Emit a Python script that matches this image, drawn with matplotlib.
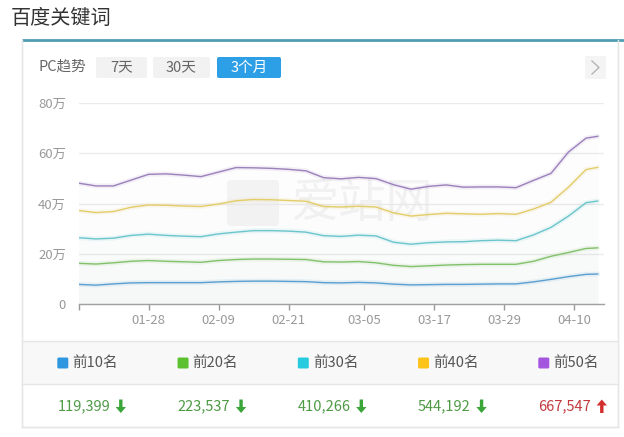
import matplotlib
matplotlib.use('Agg')
import matplotlib.pyplot as plt
from matplotlib.patches import FancyBboxPatch, Rectangle, Polygon
import pandas as pd

plt.rcParams['font.family'] = ['Noto Sans CJK SC', 'DejaVu Sans']

# ---- data (单位: 万) ----
dates = ['01-16', '01-19', '01-22', '01-25', '01-28', '01-31', '02-03', '02-06',
         '02-09', '02-12', '02-15', '02-18', '02-21', '02-24', '02-27', '03-01',
         '03-04', '03-07', '03-10', '03-13', '03-16', '03-19', '03-22', '03-25',
         '03-28', '03-31', '04-03', '04-06', '04-09', '04-12', '04-14']

top10 = [7.8, 7.5, 8.0, 8.4, 8.5, 8.5, 8.5, 8.5, 8.8, 9.0, 9.1, 9.1, 9.0, 8.9, 8.5, 8.4,
         8.6, 8.4, 7.9, 7.6, 7.7, 7.8, 7.8, 7.9, 8.0, 8.0, 8.8, 9.8, 10.9, 11.8, 11.94]
top20 = [16.2, 15.9, 16.4, 17.0, 17.3, 17.0, 16.8, 16.6, 17.3, 17.7, 17.9, 17.9, 17.8, 17.7,
         16.8, 16.7, 16.9, 16.4, 15.4, 14.9, 15.2, 15.5, 15.7, 15.8, 15.8, 15.8, 17.0, 19.0,
         20.5, 22.1, 22.35]
top30 = [26.4, 25.9, 26.2, 27.3, 27.8, 27.3, 27.0, 26.8, 27.9, 28.6, 29.2, 29.2, 29.0, 28.6,
         27.2, 26.9, 27.4, 27.1, 24.6, 23.8, 24.4, 24.7, 24.8, 25.2, 25.4, 25.2, 27.5, 30.5,
         35.0, 40.3, 41.0]
top40 = [37.2, 36.4, 36.8, 38.5, 39.4, 39.3, 39.0, 38.8, 39.8, 41.1, 41.6, 41.5, 41.2, 40.9,
         38.8, 38.6, 38.9, 38.6, 36.3, 35.0, 35.6, 36.1, 35.9, 35.7, 36.0, 35.7, 37.8, 40.5,
         46.5, 53.5, 54.4]
top50 = [48.1, 47.0, 47.0, 49.3, 51.6, 51.8, 51.3, 50.7, 52.5, 54.3, 54.2, 54.0, 53.6, 53.0,
         50.3, 49.8, 50.4, 49.9, 47.5, 45.7, 46.8, 47.4, 46.5, 46.6, 46.6, 46.3, 49.2, 52.0,
         60.5, 66.0, 66.75]

series_names = ['前10名', '前20名', '前30名', '前40名', '前50名']
latest = ['119,399', '223,537', '410,266', '544,192', '667,547']
trend_up = [False, False, False, False, True]

tick_dates = ['01-16', '01-28', '02-09', '02-21', '03-05', '03-17', '03-29', '04-10']
tick_labels = ['', '01-28', '02-09', '02-21', '03-05', '03-17', '03-29', '04-10']
y_ticks = [0, 20, 40, 60, 80]
y_labels = ['0', '20万', '40万', '60万', '80万']

line_colors = ['#5a9fcf', '#82c16c', '#6ac6cc', '#e3cc6a', '#9c80bb']
legend_colors = ['#2f97e0', '#5cc12f', '#27cbe0', '#fcc419', '#a455e0']

W, H = 624, 437
fig = plt.figure(figsize=(W / 100, H / 100), dpi=100)
fig.patch.set_facecolor('white')

# pixel-space overlay for the page chrome
ui = fig.add_axes([0, 0, 1, 1])
ui.set_xlim(0, W)
ui.set_ylim(H, 0)
ui.axis('off')

ui.text(11, 19, '百度关键词', fontsize=14.5, color='#333333', va='center', ha='left',
        fontweight='light')
ui.add_patch(Rectangle((22, 40), 596, 387, facecolor='white', edgecolor='#e6e6e6', lw=1))
ui.plot([22, 624], [40, 40], color='#4f9db2', lw=2, solid_capstyle='butt')

ui.text(38, 67, 'PC趋势', fontsize=10.5, color='#666666', va='center', fontweight='light')
buttons = [('7天', 96, 147, False), ('30天', 153, 210, False), ('3个月', 217, 281, True)]
for label, x0, x1, active in buttons:
    ui.add_patch(FancyBboxPatch((x0, 57), x1 - x0, 21,
                                boxstyle='round,pad=0,rounding_size=2',
                                facecolor='#2d9fe6' if active else '#f2f2f2',
                                edgecolor='none'))
    ui.text((x0 + x1) / 2, 67.5, label, fontsize=10.5, ha='center', va='center',
            color='white' if active else '#666666', fontweight='light')
ui.add_patch(Rectangle((585, 56), 21, 23, facecolor='#f4f4f4', edgecolor='none'))
ui.plot([592, 599, 592], [61, 67.5, 74], color='#b5b5b5', lw=1)

# watermark
ui.add_patch(FancyBboxPatch((227, 180), 52, 46, boxstyle='round,pad=0,rounding_size=4',
                            facecolor='#f5f5f5', edgecolor='none', zorder=2))
ui.text(291, 204, '爱站网', fontsize=34, color='#f3f3f3', va='center', ha='left', zorder=2)

# footer table
ui.add_patch(Rectangle((22, 341), 596, 43, facecolor='#f8f8f8', edgecolor='none', zorder=2))
for yy in (341, 384, 427):
    ui.plot([22, 618], [yy, yy], color='#e6e6e6', lw=1, zorder=3)
ui.plot([22, 22], [40, 427], color='#e6e6e6', lw=1, zorder=3)
ui.plot([618, 618], [40, 427], color='#e6e6e6', lw=1, zorder=3)


def draw_arrow(cx, top, bottom, up, color):
    sw, hw, hl = 1.7, 5.2, 6
    if up:
        pts = [(cx - sw, bottom), (cx - sw, top + hl), (cx - hw, top + hl), (cx, top),
               (cx + hw, top + hl), (cx + sw, top + hl), (cx + sw, bottom)]
    else:
        pts = [(cx - sw, top), (cx - sw, bottom - hl), (cx - hw, bottom - hl), (cx, bottom),
               (cx + hw, bottom - hl), (cx + sw, bottom - hl), (cx + sw, top)]
    ui.add_patch(Polygon(pts, closed=True, facecolor=color, edgecolor='none', zorder=3))


for i, name in enumerate(series_names):
    cx = 57.3 + 120.25 * i
    ui.add_patch(FancyBboxPatch((cx, 357.5), 11, 11, boxstyle='round,pad=0,rounding_size=1.5',
                                facecolor=legend_colors[i], edgecolor='none', zorder=3))
    ui.text(cx + 15, 363, name, fontsize=10.5, color='#555555', va='center', ha='left',
            fontweight='light', zorder=3)
    up = trend_up[i]
    ui.text(cx, 406, latest[i], fontsize=10.5, va='center', ha='left',
            color='#c0393d' if up else '#4e9a45', fontweight='light', zorder=3)
    draw_arrow(cx + 63.5, 399.5, 413, up, '#d22f2f' if up else '#3aa63a')

# chart
x = pd.to_datetime(['2020-' + d for d in dates])
ax = fig.add_axes([78.5 / W, 1 - 304 / H, 525 / W, 201 / H])
ax.set_facecolor('none')
for vals, c in zip([top50, top40, top30, top20, top10], line_colors[::-1]):
    ax.fill_between(x, vals, 0, color=c, alpha=0.012, lw=0)
    ax.plot(x, vals, color=c, lw=3.5, alpha=0.12, solid_capstyle='round')
    ax.plot(x, vals, color=c, lw=1.0)

ax.set_xlim(pd.Timestamp('2020-01-16'), pd.Timestamp('2020-04-15'))
ax.set_ylim(0, 80)
ax.set_xticks(pd.to_datetime(['2020-' + d for d in tick_dates]))
ax.set_xticklabels(tick_labels)
ax.set_yticks(y_ticks)
ax.set_yticklabels(y_labels)
ax.tick_params(axis='x', length=4, width=1, color='#999999', labelcolor='#999999',
               labelsize=9.5, pad=3)
ax.tick_params(axis='y', length=0, labelcolor='#999999', labelsize=9.5, pad=9)
ax.yaxis.grid(True, color='#ebebeb', lw=1)
ax.set_axisbelow(True)
for side in ('top', 'right', 'left'):
    ax.spines[side].set_visible(False)
ax.spines['bottom'].set_color('#a0a0a0')
ax.spines['bottom'].set_linewidth(1)

fig.savefig('out.png', dpi=100)
